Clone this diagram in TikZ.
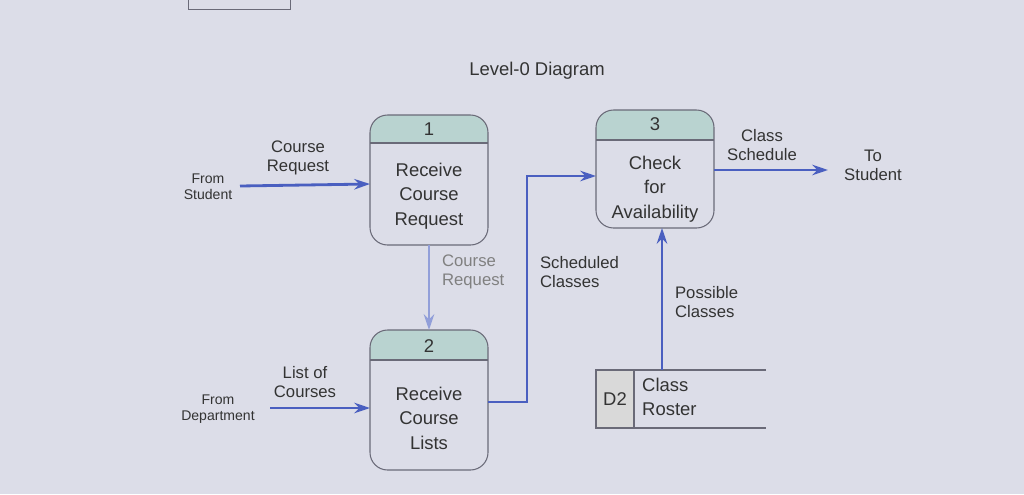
\documentclass[tikz,border=0pt]{standalone}
\usepackage{fontspec}
\setmainfont{Liberation Sans}
\usetikzlibrary{arrows.meta}
\definecolor{bg}{HTML}{DCDDE8}
\definecolor{hdr}{HTML}{B9D3D0}
\definecolor{fl}{HTML}{4A5FC0}
\definecolor{ln}{HTML}{6A6A78}
\begin{document}
\begin{tikzpicture}[x=0.02cm,y=-0.02cm,
  proc/.style={draw=ln,line width=0.6pt,rounded corners=10pt},
  flow/.style={draw=fl,line width=1.6pt,-{Stealth[length=9pt,width=6pt]}},
  lab/.style={font=\fontsize{9.5}{11}\selectfont,text=black!80,align=center,inner sep=1pt},
  small/.style={font=\fontsize{8}{9}\selectfont,text=black!80,align=center,inner sep=1pt},
  ptext/.style={font=\fontsize{10.5}{14}\selectfont,text=black!80,align=center}]
\fill[bg] (0,0) rectangle (1024,494);
\useasboundingbox (0,0) rectangle (1024,494);
\draw[ln,line width=0.5pt] (188,0) -- (188,9) -- (290,9) -- (290,0);
\node[font=\fontsize{10.5}{12}\selectfont,text=black!80] (title) at (537,71) {Level-0 Diagram};
% process 1
\begin{scope}
\clip[rounded corners=10pt] (370,115) rectangle (488,245);
\fill[hdr] (370,115) rectangle (488,143);
\end{scope}
\draw[proc] (370,115) rectangle (488,245);
\draw[ln,line width=0.6pt] (370,143) -- (488,143);
\node[ptext] (n1) at (429,129) {1};
\node[ptext] (p1) at (429,196) {Receive\\Course\\Request};
\coordinate (p1w) at (370,184);
\coordinate (p1s) at (429,245);
% process 3
\begin{scope}
\clip[rounded corners=10pt] (596,110) rectangle (714,228);
\fill[hdr] (596,110) rectangle (714,140);
\end{scope}
\draw[proc] (596,110) rectangle (714,228);
\draw[ln,line width=0.6pt] (596,140) -- (714,140);
\node[ptext] (n3) at (655,124) {3};
\node[ptext] (p3) at (655,189) {Check\\for\\Availability};
\coordinate (p3w) at (596,176);
\coordinate (p3e) at (714,170);
\coordinate (p3s) at (662,228);
% process 2
\begin{scope}
\clip[rounded corners=10pt] (370,330) rectangle (488,470);
\fill[hdr] (370,330) rectangle (488,360);
\end{scope}
\draw[proc] (370,330) rectangle (488,470);
\draw[ln,line width=0.6pt] (370,360) -- (488,360);
\node[ptext] (n2) at (429,346) {2};
\node[ptext] (p2) at (429,418) {Receive\\Course\\Lists};
\coordinate (p2n) at (429,330);
\coordinate (p2w) at (370,408);
\coordinate (p2e) at (488,402);
% data store
\fill[black!15] (596,370) rectangle (634,428);
\draw[ln,line width=0.6pt] (766,370) -- (596,370) -- (596,428) -- (766,428);
\draw[ln,line width=0.6pt] (634,370) -- (634,428);
\node[ptext] (d2) at (615,399) {D2};
\node[ptext,align=left,anchor=west] (ds) at (636,397) {Class\\Roster};
\coordinate (dsn) at (662,370);
% external labels
\node[small] (stu) at (208,187) {From\\Student};
\node[small] (dep) at (218,409) {From\\Department};
\node[lab] (to) at (873,165) {To\\Student};
\coordinate (stuE) at (240,186);
\coordinate (depE) at (270,408);
\coordinate (toW) at (828,170);
% flows
\draw[flow] (stuE) -- (p1w);
\node[lab] at (298,158) {Course\\Request};
\draw[flow] (depE) -- (p2w);
\node[lab] at (305,382) {List of\\Courses};
\draw[flow,draw=fl!60] (p1s) -- (p2n);
\node[lab,text=black!50,align=left,anchor=west] at (440,272) {Course\\Request};
\draw[flow] (p2e) -- (527,402) -- (527,176) -- (p3w);
\node[lab,align=left,anchor=west] at (538,272) {Scheduled\\Classes};
\draw[flow] (dsn) -- (p3s);
\node[lab,align=left,anchor=west] at (673,302) {Possible\\Classes};
\draw[flow] (p3e) -- (toW);
\node[lab] at (762,145) {Class\\Schedule};
\end{tikzpicture}
\end{document}
